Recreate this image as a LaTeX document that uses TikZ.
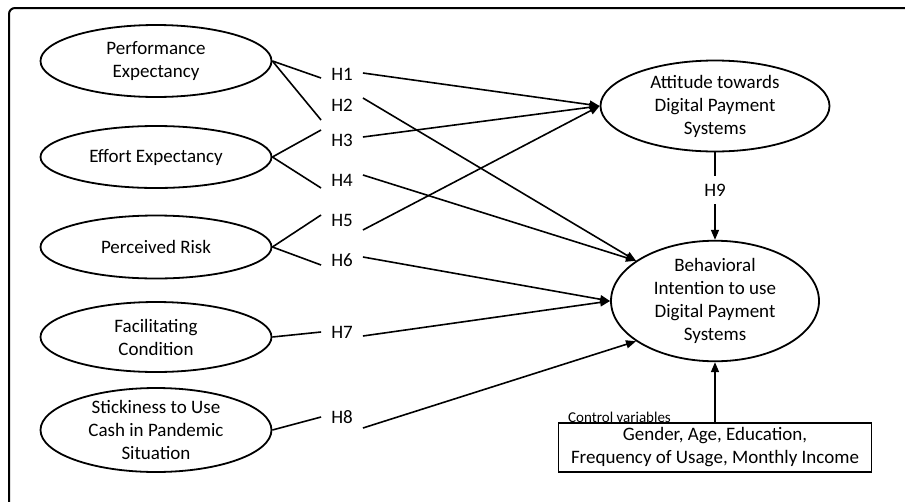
\documentclass[tikz,border=0pt]{standalone}
\usepackage{fontspec}
\setmainfont{Carlito}
\usetikzlibrary{shapes.geometric,arrows.meta}
\begin{document}
\begin{tikzpicture}[x=1pt,y=-1pt,
  every node/.style={font=\fontsize{19}{23}\selectfont},
  cons/.style={draw,ellipse,line width=1.8pt,inner sep=0pt,align=center},
  hlab/.style={inner xsep=10pt,inner ysep=8pt},
  ln/.style={line width=1.6pt},
  arr/.style={line width=1.6pt,-{Triangle[length=10pt,width=8pt]}},
  ctrl/.style={draw,line width=1.6pt,rectangle,align=center,inner sep=1pt,minimum width=313pt,minimum height=49pt}]
\clip (0,0) rectangle (905,501);
\useasboundingbox (0,0) rectangle (905,501);
\draw[line width=2pt,rounded corners=6pt] (9,8) rectangle (930,520);

% constructs
\node[cons,minimum width=231pt,minimum height=72pt] (pe) at (156,61) {Performance\\Expectancy};
\node[cons,minimum width=231pt,minimum height=62pt] (ee) at (156,157) {Effort Expectancy};
\node[cons,minimum width=231pt,minimum height=63pt] (pr) at (156,247) {Perceived Risk};
\node[cons,minimum width=231pt,minimum height=70pt] (fc) at (156,337) {Facilitating\\Condition};
\node[cons,minimum width=231pt,minimum height=84pt] (sc) at (156,430) {Stickiness to Use\\Cash in Pandemic\\Situation};
\node[cons,minimum width=229pt,minimum height=91pt] (att) at (715,106) {Attitude towards\\Digital Payment\\Systems};
\node[cons,minimum width=208pt,minimum height=109pt] (bi) at (715,301) {Behavioral\\Intention to use\\Digital Payment\\Systems};
\node[ctrl] (cv) at (715,447.5) {Gender, Age, Education,\\Frequency of Usage, Monthly Income};
\node[anchor=south west,inner sep=0pt,font=\fontsize{15}{18}\selectfont] (cvl) at (568,423) {Control variables};

% hypothesis labels
\node[hlab] (h1) at (342,74) {H1};
\node[hlab] (h2) at (342,105) {H2};
\node[hlab] (h3) at (342,140) {H3};
\node[hlab] (h4) at (342,180) {H4};
\node[hlab] (h5) at (342,220) {H5};
\node[hlab] (h6) at (342,260) {H6};
\node[hlab] (h7) at (342,332) {H7};
\node[hlab] (h8) at (342,417) {H8};
\node[hlab] (h9) at (715,190) {H9};

% lines from constructs to labels
\draw[ln] (pe.east) -- ([yshift=-4pt]h1.west);
\draw[ln] (pe.east) -- ([shift={(0pt,-15pt)}]h2.west);
\draw[ln] (ee.east) -- ([yshift=10pt]h3.west);
\draw[ln] (ee.east) -- ([yshift=-8pt]h4.west);
\draw[ln] (pr.east) -- ([yshift=5pt]h5.west);
\draw[ln] (pr.east) -- ([yshift=-5pt]h6.west);
\draw[ln] (fc.east) -- (h7.west);
\draw[ln] (sc.east) -- (h8.west);

% arrows from labels to outcomes
\draw[arr] ([yshift=1pt]h1.east) -- (att.west);
\draw[arr] ([yshift=7pt]h2.east) -- (bi.153);
\draw[arr] ([yshift=3pt]h3.east) -- (att.west);
\draw[arr] ([yshift=5pt]h4.east) -- (bi.153);
\draw[arr] ([yshift=-10pt]h5.east) -- (att.west);
\draw[arr] ([yshift=3pt]h6.east) -- (bi.west);
\draw[arr] ([yshift=-4pt]h7.east) -- (bi.west);
\draw[arr] ([yshift=-11pt]h8.east) -- (bi.207);

% H9 and control
\draw[ln] (att.south) -- (h9.north);
\draw[arr] (h9.south) -- (bi.north);
\draw[arr] (cv.north) -- (bi.south);
\end{tikzpicture}
\end{document}
